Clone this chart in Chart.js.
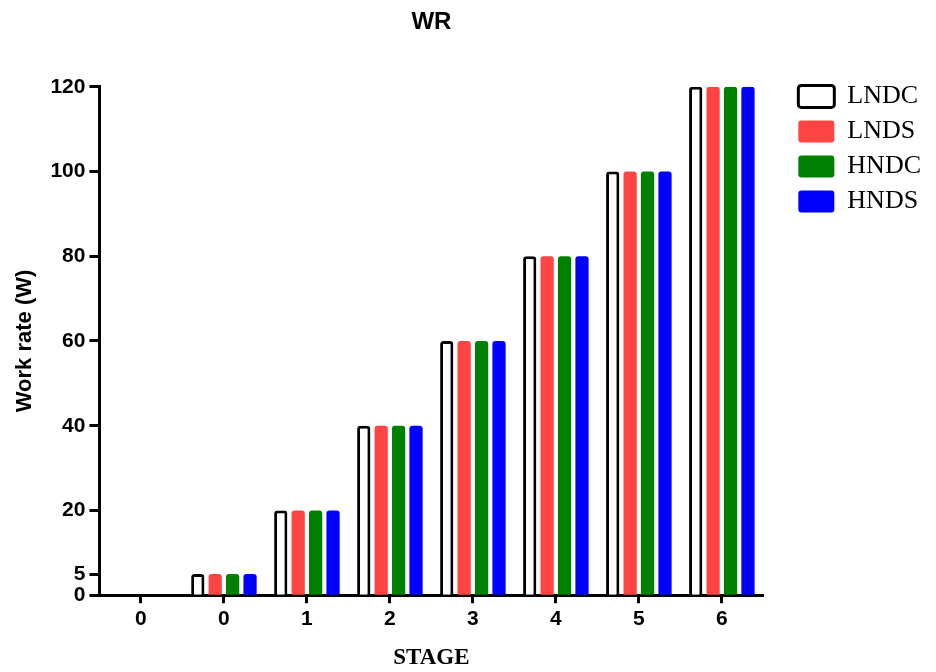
<!DOCTYPE html>
<html>
<head>
<meta charset="utf-8">
<title>WR</title>
<script src="https://cdn.jsdelivr.net/npm/chart.js@4.4.1/dist/chart.umd.min.js"></script>
<style>
    html, body { margin: 0; padding: 0; background: #fff; }
    #wrap { width: 936px; height: 672px; position: relative; }
</style>
</head>
<body>
<div id="wrap"><canvas id="wrChart"></canvas></div>
<script>
// Chart data
const stages = ["0", "0", "1", "2", "3", "4", "5", "6"];
const lndc = [0, 5, 20, 40, 60, 80, 100, 120];
const lnds = [0, 5, 20, 40, 60, 80, 100, 120];
const hndc = [0, 5, 20, 40, 60, 80, 100, 120];
const hnds = [0, 5, 20, 40, 60, 80, 100, 120];
const yTicks = [0, 5, 20, 40, 60, 80, 100, 120];

const sans = "'Liberation Sans', Arial, sans-serif";
const serif = "'Liberation Serif', 'Times New Roman', serif";

Chart.defaults.font.family = sans;
Chart.defaults.color = "#000";

function barSet(label, values, fill, border, width) {
    return {
        label: label,
        data: values,
        backgroundColor: fill,
        borderColor: border,
        borderWidth: width,
        borderRadius: 3,
        borderSkipped: "start",
        categoryPercentage: 0.84,
        barPercentage: 0.76
    };
}

document.addEventListener("DOMContentLoaded", function () {
    const ctx = document.getElementById("wrChart").getContext("2d");

    new Chart(ctx, {
        type: "bar",
        data: {
            labels: stages,
            datasets: [
                barSet("LNDC", lndc, "#ffffff", "#000000", 3),
                barSet("LNDS", lnds, "#ff4444", "#ff4444", 0),
                barSet("HNDC", hndc, "#008000", "#008000", 0),
                barSet("HNDS", hnds, "#0000ff", "#0000ff", 0)
            ]
        },
        options: {
            responsive: true,
            maintainAspectRatio: false,
            animation: false,
            devicePixelRatio: 1,
            layout: { padding: { left: 8, right: 5, top: 0, bottom: 0 } },
            scales: {
                x: {
                    grid: {
                        offset: false,
                        drawOnChartArea: false,
                        tickLength: 8,
                        tickWidth: 3,
                        tickColor: "#000"
                    },
                    border: { display: true, color: "#000", width: 3 },
                    ticks: {
                        autoSkip: false,
                        maxRotation: 0,
                        padding: 3,
                        font: { size: 21, weight: "bold" }
                    },
                    title: {
                        display: true,
                        text: "STAGE",
                        font: { family: serif, size: 23, weight: "bold" },
                        padding: { top: 10, bottom: 0 }
                    }
                },
                y: {
                    min: 0,
                    max: 120,
                    afterBuildTicks: scale => {
                        scale.ticks = yTicks.map(v => ({ value: v }));
                    },
                    grid: {
                        drawOnChartArea: false,
                        tickLength: 10,
                        tickWidth: 3,
                        tickColor: "#000"
                    },
                    border: { display: true, color: "#000", width: 3 },
                    ticks: {
                        autoSkip: false,
                        padding: 4,
                        font: { size: 21, weight: "bold" }
                    },
                    title: {
                        display: true,
                        text: "Work rate (W)",
                        font: { size: 22, weight: "bold" },
                        padding: { top: 4, bottom: 8 }
                    }
                },
                // spacer between plot and legend
                gap: {
                    position: "right",
                    grid: { display: false, drawTicks: false },
                    border: { display: false },
                    ticks: { display: false },
                    afterFit: scale => { scale.width = 26; }
                }
            },
            plugins: {
                title: {
                    display: true,
                    text: "WR",
                    fullSize: false,
                    color: "#000",
                    font: { size: 24, weight: "bold" },
                    padding: { top: 8, bottom: 50 }
                },
                legend: {
                    position: "right",
                    align: "start",
                    title: {
                        display: true,
                        text: "",
                        font: { size: 12 },
                        padding: { top: 60, bottom: 0 }
                    },
                    labels: {
                        boxWidth: 36,
                        boxHeight: 22,
                        padding: 9,
                        useBorderRadius: true,
                        borderRadius: 3,
                        color: "#000",
                        font: { family: serif, size: 26 }
                    }
                },
                tooltip: { enabled: false }
            }
        }
    });
});
</script>
</body>
</html>
